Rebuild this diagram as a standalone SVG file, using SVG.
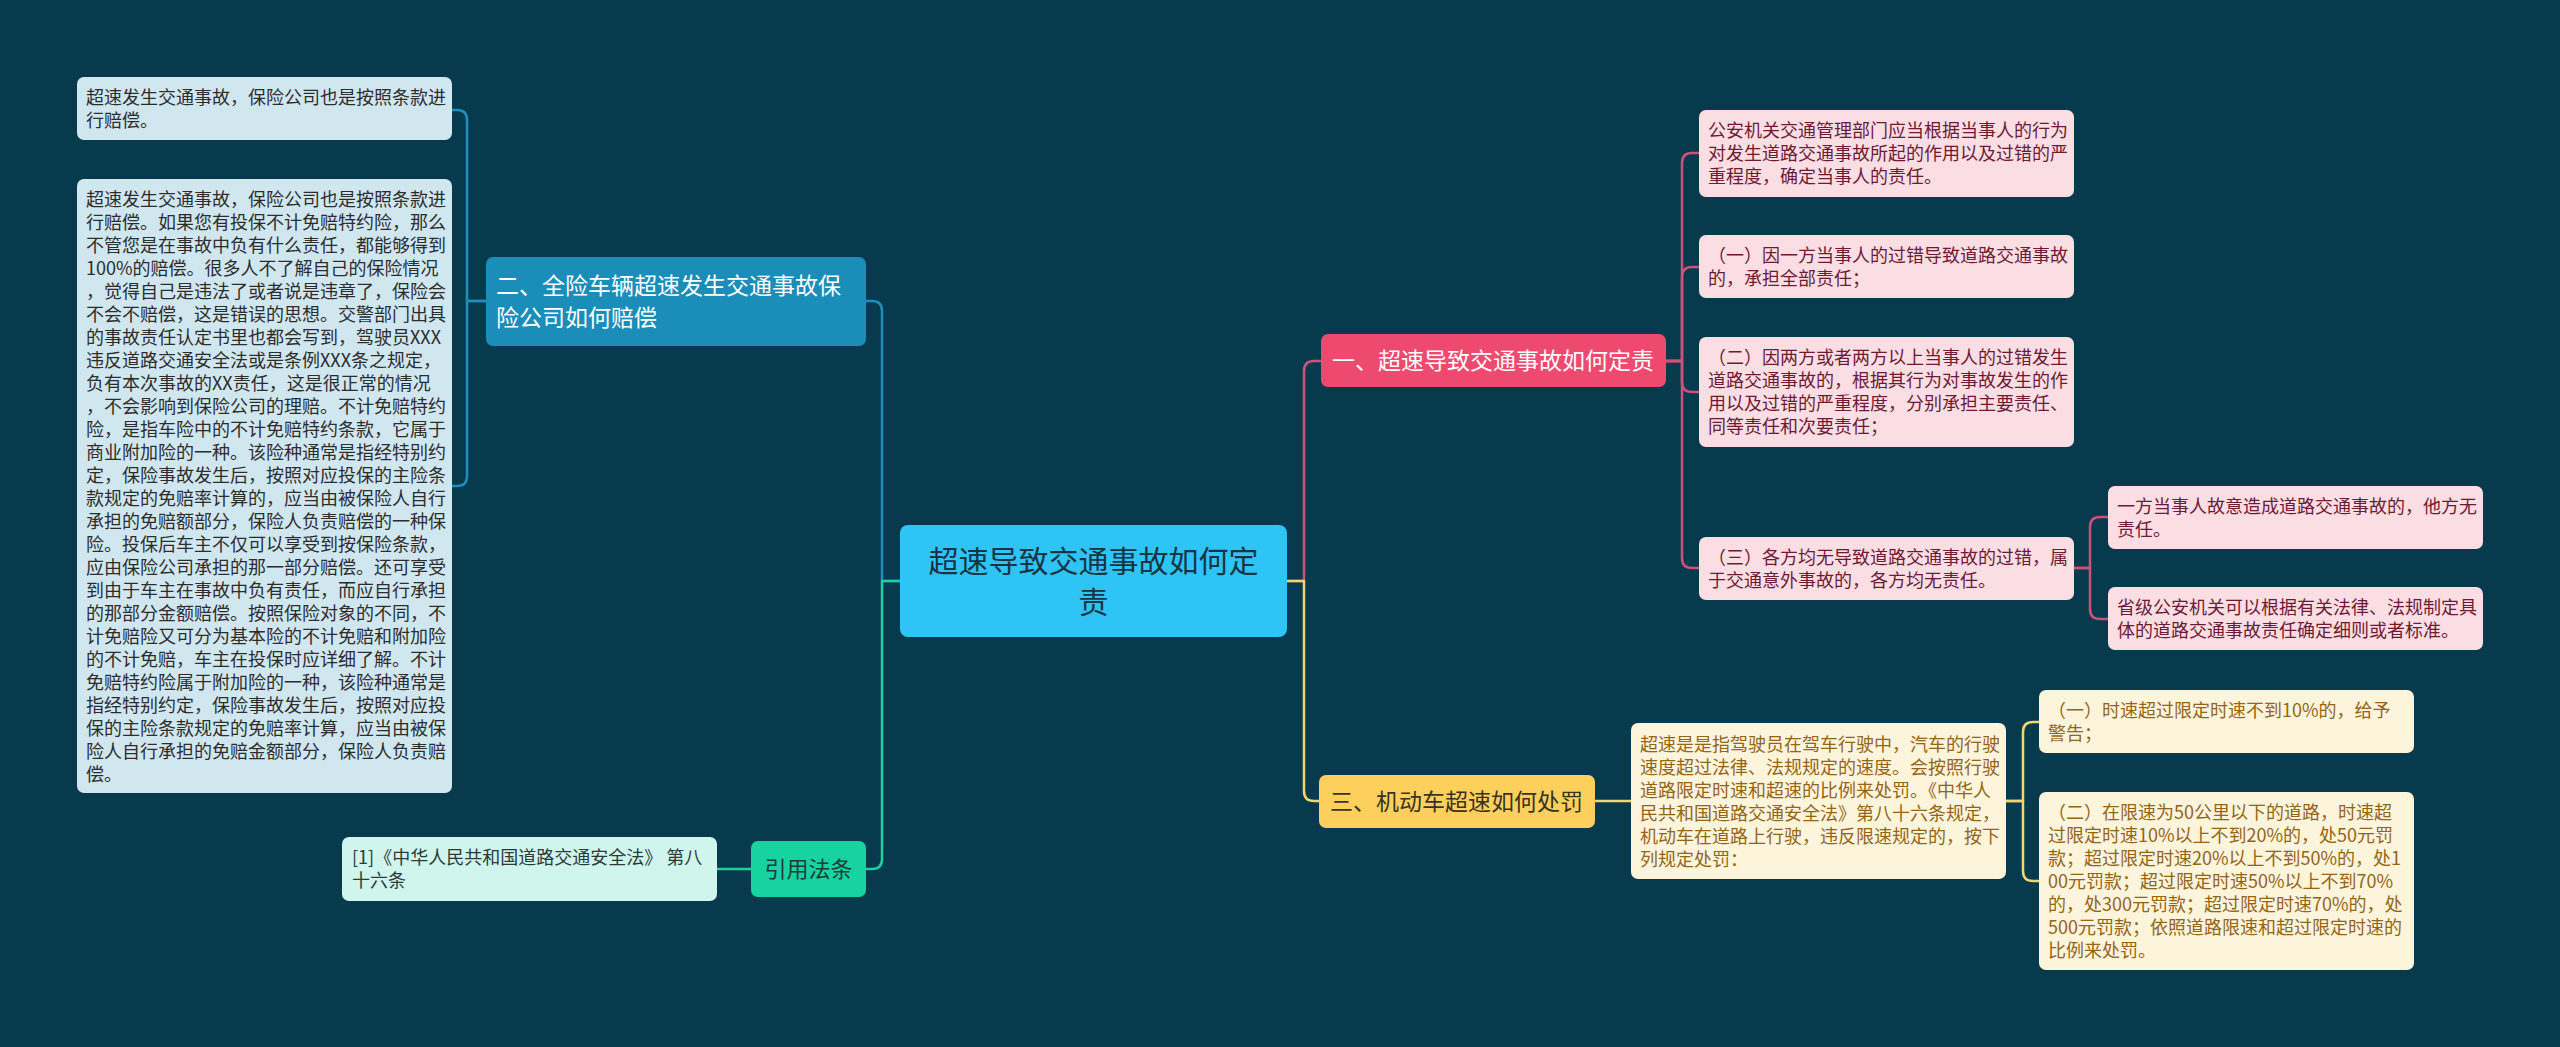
<svg xmlns="http://www.w3.org/2000/svg" width="2560" height="1047" viewBox="0 0 2560 1047">
<style>
text{font-family:"Noto Sans CJK SC","Noto Sans",sans-serif;}
.c{fill:none;stroke-width:2.5;stroke-linecap:round;stroke-linejoin:round;}
.cb{stroke:#1f8dbd;}
.cg{stroke:#1ccf9e;}
.cr{stroke:#cf5079;}
.cy{stroke:#f0d572;}
.t18{font-size:18px;}
.lb{fill:#d0e7f0;}
.lbt{fill:#2d2d2d;}
.pk{fill:#fbdde4;}
.pkt{fill:#6e1a35;}
.yl{fill:#fdf4dc;}
.ylt{fill:#946516;}
.mt{fill:#cff5ec;}
.mtt{fill:#2d3a3a;}
</style>
<rect width="2560" height="1047" fill="#083a4e"/>
<g id="connectors">
<path class="c cb" d="M486,301 H467 V120 Q467,110 457,110 H452"/>
<path class="c cb" d="M486,301 H467 V476 Q467,486 457,486 H452"/>
<path class="c cb" d="M900,581 H882 V311 Q882,301 872,301 H866"/>
<path class="c cg" d="M900,581 H882 V859 Q882,869 872,869 H866"/>
<path class="c cg" d="M751,869 H717"/>
<path class="c cr" d="M1287,581 H1304 V371 Q1304,361 1314,361 H1321"/>
<path class="c cy" d="M1287,581 H1304 V791 Q1304,801 1314,801 H1319"/>
<path class="c cr" d="M1666,361 H1682 V163 Q1682,153 1692,153 H1699"/>
<path class="c cr" d="M1666,361 H1682 V277 Q1682,267 1692,267 H1699"/>
<path class="c cr" d="M1666,361 H1682 V382 Q1682,392 1692,392 H1699"/>
<path class="c cr" d="M1666,361 H1682 V558 Q1682,568 1692,568 H1699"/>
<path class="c cr" d="M2074,568 H2090 V527 Q2090,517 2100,517 H2108"/>
<path class="c cr" d="M2074,568 H2090 V609 Q2090,619 2100,619 H2108"/>
<path class="c cy" d="M1595,801 H1631"/>
<path class="c cy" d="M2005,801 H2023 V732 Q2023,722 2033,722 H2039"/>
<path class="c cy" d="M2005,801 H2023 V871 Q2023,881 2033,881 H2039"/>
</g>
<g id="center">
<rect x="900" y="525" width="387" height="112" rx="8" fill="#2ec4f5"/>
<text x="1093.5" y="572" font-size="30" fill="#173545" text-anchor="middle">超速导致交通事故如何定</text>
<text x="1093.5" y="613" font-size="30" fill="#173545" text-anchor="middle">责</text>
</g>
<g id="branch-2">
<rect x="486" y="257" width="380" height="89" rx="7" fill="#1a8db8"/>
<text x="496" y="294" font-size="23" fill="#ffffff">二、全险车辆超速发生交通事故保</text>
<text x="496" y="326" font-size="23" fill="#ffffff">险公司如何赔偿</text>
</g>
<g id="leaf-2a">
<rect class="lb" x="77" y="77" width="375" height="63" rx="7"/>
<text class="t18 lbt" x="86"><tspan x="86" y="104">超速发生交通事故，保险公司也是按照条款进</tspan><tspan x="86" y="127">行赔偿。</tspan></text>
</g>
<g id="leaf-2b">
<rect class="lb" x="77" y="179" width="375" height="614" rx="7"/>
<text class="t18 lbt" x="86">
<tspan x="86" y="206">超速发生交通事故，保险公司也是按照条款进</tspan>
<tspan x="86" y="229">行赔偿。如果您有投保不计免赔特约险，那么</tspan>
<tspan x="86" y="252">不管您是在事故中负有什么责任，都能够得到</tspan>
<tspan x="86" y="275">100%的赔偿。很多人不了解自己的保险情况</tspan>
<tspan x="86" y="298">，觉得自己是违法了或者说是违章了，保险会</tspan>
<tspan x="86" y="321">不会不赔偿，这是错误的思想。交警部门出具</tspan>
<tspan x="86" y="344">的事故责任认定书里也都会写到，驾驶员XXX</tspan>
<tspan x="86" y="367">违反道路交通安全法或是条例XXX条之规定，</tspan>
<tspan x="86" y="390">负有本次事故的XX责任，这是很正常的情况</tspan>
<tspan x="86" y="413">，不会影响到保险公司的理赔。不计免赔特约</tspan>
<tspan x="86" y="436">险，是指车险中的不计免赔特约条款，它属于</tspan>
<tspan x="86" y="459">商业附加险的一种。该险种通常是指经特别约</tspan>
<tspan x="86" y="482">定，保险事故发生后，按照对应投保的主险条</tspan>
<tspan x="86" y="505">款规定的免赔率计算的，应当由被保险人自行</tspan>
<tspan x="86" y="528">承担的免赔额部分，保险人负责赔偿的一种保</tspan>
<tspan x="86" y="551">险。投保后车主不仅可以享受到按保险条款，</tspan>
<tspan x="86" y="574">应由保险公司承担的那一部分赔偿。还可享受</tspan>
<tspan x="86" y="597">到由于车主在事故中负有责任，而应自行承担</tspan>
<tspan x="86" y="620">的那部分金额赔偿。按照保险对象的不同，不</tspan>
<tspan x="86" y="643">计免赔险又可分为基本险的不计免赔和附加险</tspan>
<tspan x="86" y="666">的不计免赔，车主在投保时应详细了解。不计</tspan>
<tspan x="86" y="689">免赔特约险属于附加险的一种，该险种通常是</tspan>
<tspan x="86" y="712">指经特别约定，保险事故发生后，按照对应投</tspan>
<tspan x="86" y="735">保的主险条款规定的免赔率计算，应当由被保</tspan>
<tspan x="86" y="758">险人自行承担的免赔金额部分，保险人负责赔</tspan>
<tspan x="86" y="781">偿。</tspan>
</text>
</g>
<g id="branch-law">
<rect x="751" y="841" width="115" height="56" rx="7" fill="#16d3a0"/>
<text x="808.5" y="877" font-size="22" fill="#1d3b3a" text-anchor="middle">引用法条</text>
</g>
<g id="leaf-law">
<rect class="mt" x="342" y="837" width="375" height="64" rx="7"/>
<text class="t18 mtt"><tspan x="352" y="864">[1]《中华人民共和国道路交通安全法》 第八</tspan><tspan x="352" y="887">十六条</tspan></text>
</g>
<g id="branch-1">
<rect x="1321" y="334" width="345" height="53" rx="7" fill="#ee4a6f"/>
<text x="1332" y="369" font-size="23" fill="#ffffff">一、超速导致交通事故如何定责</text>
</g>
<g id="leaf-1a">
<rect class="pk" x="1699" y="110" width="375" height="87" rx="7"/>
<text class="t18 pkt"><tspan x="1708" y="137">公安机关交通管理部门应当根据当事人的行为</tspan><tspan x="1708" y="160">对发生道路交通事故所起的作用以及过错的严</tspan><tspan x="1708" y="183">重程度，确定当事人的责任。</tspan></text>
</g>
<g id="leaf-1b">
<rect class="pk" x="1699" y="235" width="375" height="63" rx="7"/>
<text class="t18 pkt"><tspan x="1708" y="262">（一）因一方当事人的过错导致道路交通事故</tspan><tspan x="1708" y="285">的，承担全部责任；</tspan></text>
</g>
<g id="leaf-1c">
<rect class="pk" x="1699" y="337" width="375" height="110" rx="7"/>
<text class="t18 pkt"><tspan x="1708" y="364">（二）因两方或者两方以上当事人的过错发生</tspan><tspan x="1708" y="387">道路交通事故的，根据其行为对事故发生的作</tspan><tspan x="1708" y="410">用以及过错的严重程度，分别承担主要责任、</tspan><tspan x="1708" y="433">同等责任和次要责任；</tspan></text>
</g>
<g id="leaf-1d">
<rect class="pk" x="1699" y="537" width="375" height="63" rx="7"/>
<text class="t18 pkt"><tspan x="1708" y="564">（三）各方均无导致道路交通事故的过错，属</tspan><tspan x="1708" y="587">于交通意外事故的，各方均无责任。</tspan></text>
</g>
<g id="leaf-1d1">
<rect class="pk" x="2108" y="486" width="375" height="63" rx="7"/>
<text class="t18 pkt"><tspan x="2117" y="513">一方当事人故意造成道路交通事故的，他方无</tspan><tspan x="2117" y="536">责任。</tspan></text>
</g>
<g id="leaf-1d2">
<rect class="pk" x="2108" y="587" width="375" height="63" rx="7"/>
<text class="t18 pkt"><tspan x="2117" y="614">省级公安机关可以根据有关法律、法规制定具</tspan><tspan x="2117" y="637">体的道路交通事故责任确定细则或者标准。</tspan></text>
</g>
<g id="branch-3">
<rect x="1319" y="775" width="276" height="53" rx="7" fill="#fdd05e"/>
<text x="1330" y="810" font-size="23" fill="#3a3320">三、机动车超速如何处罚</text>
</g>
<g id="leaf-3">
<rect class="yl" x="1631" y="723" width="375" height="156" rx="7"/>
<text class="t18 ylt"><tspan x="1640" y="751">超速是是指驾驶员在驾车行驶中，汽车的行驶</tspan><tspan x="1640" y="774">速度超过法律、法规规定的速度。会按照行驶</tspan><tspan x="1640" y="797">道路限定时速和超速的比例来处罚。《中华人</tspan><tspan x="1640" y="820">民共和国道路交通安全法》第八十六条规定，</tspan><tspan x="1640" y="843">机动车在道路上行驶，违反限速规定的，按下</tspan><tspan x="1640" y="866">列规定处罚：</tspan></text>
</g>
<g id="leaf-3a">
<rect class="yl" x="2039" y="690" width="375" height="63" rx="7"/>
<text class="t18 ylt"><tspan x="2048" y="717">（一）时速超过限定时速不到10%的，给予</tspan><tspan x="2048" y="740">警告；</tspan></text>
</g>
<g id="leaf-3b">
<rect class="yl" x="2039" y="792" width="375" height="178" rx="7"/>
<text class="t18 ylt"><tspan x="2048" y="819">（二）在限速为50公里以下的道路，时速超</tspan><tspan x="2048" y="842">过限定时速10%以上不到20%的，处50元罚</tspan><tspan x="2048" y="865">款；超过限定时速20%以上不到50%的，处1</tspan><tspan x="2048" y="888">00元罚款；超过限定时速50%以上不到70%</tspan><tspan x="2048" y="911">的，处300元罚款；超过限定时速70%的，处</tspan><tspan x="2048" y="934">500元罚款；依照道路限速和超过限定时速的</tspan><tspan x="2048" y="957">比例来处罚。</tspan></text>
</g>
</svg>
